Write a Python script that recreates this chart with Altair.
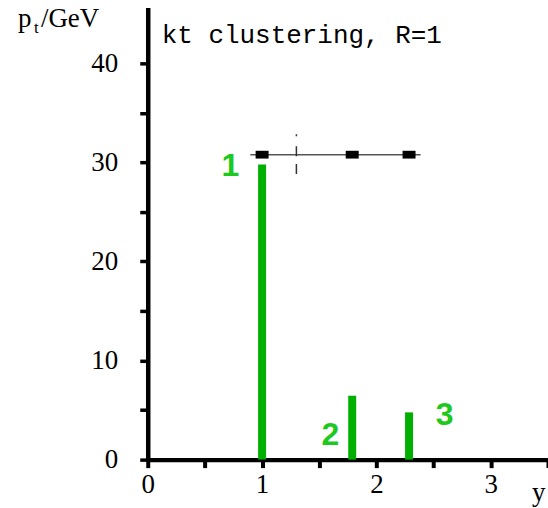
import altair as alt
import pandas as pd

# ---- data ----
jet_rapidity = [1.0, 1.788, 2.285]
jet_pt = [29.8, 6.45, 4.77]
jet_names = ["1", "2", "3"]
name_rapidity = [0.722, 1.596, 2.596]
name_pt = [28.61, 1.51, 3.53]
cluster_rapidity = [1.0, 1.788, 2.285]
cluster_pt = [30.78, 30.78, 30.78]
line_rapidity = [0.897]
line_rapidity_end = [2.386]
line_pt = [30.78]
cut_rapidity = [1.3]
cut_pt_low = [28.82]
cut_pt_high = [32.85]
x_ticks = [0, 0.5, 1, 1.5, 2, 2.5, 3, 3.5]
y_ticks = [0, 5, 10, 15, 20, 25, 30, 35, 40]

jets = pd.DataFrame({"rap": jet_rapidity, "pt": jet_pt})
names = pd.DataFrame({"rap": name_rapidity, "pt": name_pt, "name": jet_names})
cluster = pd.DataFrame({"rap": cluster_rapidity, "pt": cluster_pt})
hline = pd.DataFrame({"rap": line_rapidity, "rap2": line_rapidity_end, "pt": line_pt})
cut = pd.DataFrame({"rap": cut_rapidity, "lo": cut_pt_low, "hi": cut_pt_high})

xscale = alt.Scale(domain=[0, 3.5], nice=False, zero=False)
yscale = alt.Scale(domain=[0, 45.64], nice=False, zero=False)

xaxis = alt.Axis(
    values=x_ticks, labelExpr="datum.value % 1 == 0 ? toString(datum.value) : ''",
    title="", grid=False, domainColor="black", domainWidth=4.5, tickColor="black",
    tickWidth=4, tickSize=8, labelFont="Liberation Serif", labelFontSize=27,
    labelColor="black", labelPadding=4, labelFlush=False, labelOverlap=False,
)
yaxis = alt.Axis(
    values=y_ticks, labelExpr="datum.value % 10 == 0 ? toString(datum.value) : ''",
    title="", grid=False, domainColor="black", domainWidth=4.5, tickColor="black",
    tickWidth=3.5, tickSize=8, labelFont="Liberation Serif", labelFontSize=27,
    labelColor="black", labelPadding=22, labelFlush=False, labelOverlap=False,
)

bars = alt.Chart(jets).mark_rule(color="#00B000", strokeWidth=8, strokeCap="butt").encode(
    x=alt.X("rap:Q", scale=xscale, axis=xaxis),
    y=alt.Y("pt:Q", scale=yscale, axis=yaxis),
    y2=alt.datum(0),
)

line = alt.Chart(hline).mark_rule(color="#555555", strokeWidth=1.5).encode(
    x="rap:Q", x2="rap2:Q", y="pt:Q"
)

cutline = alt.Chart(cut).mark_rule(
    color="#333333", strokeWidth=1.5, strokeDash=[2, 10, 10, 8, 10]
).encode(x="rap:Q", y="hi:Q", y2="lo:Q")

squares = alt.Chart(cluster).mark_point(
    shape="M-1,-0.6H1V0.6H-1Z", size=169, filled=True, color="black", opacity=1
).encode(x="rap:Q", y="pt:Q")

labels = alt.Chart(names).mark_text(
    font="Liberation Sans", fontWeight="bold", fontSize=32, color="#1DC91D",
    align="center", baseline="alphabetic",
).encode(x="rap:Q", y="pt:Q", text="name:N")


def ann(txt, px, py, font, size, align="left"):
    return alt.Chart(pd.DataFrame({"t": [txt]})).mark_text(
        font=font, fontSize=size, color="black", align=align, baseline="alphabetic"
    ).encode(x=alt.value(px), y=alt.value(py), text="t:N")


title = ann("kt clustering, R=1", 14, 36, "Liberation Mono", 26)
p_lab = ann("p", 18 - 148, 27 - 7, "Liberation Serif", 27)
t_lab = ann("t", 34 - 148, 33 - 7, "Liberation Serif", 17)
gev_lab = ann("/GeV", 41 - 148, 27 - 7, "Liberation Serif", 27)
y_lab = ann("y", 533 - 148, 501 - 7, "Liberation Serif", 27)

chart = alt.layer(
    bars, line, cutline, squares, labels, title, p_lab, t_lab, gev_lab, y_lab
).properties(
    width=401, height=453,
    autosize=alt.AutoSizeParams(type="none"),
    padding={"left": 148, "top": 7, "right": 0, "bottom": 48},
).configure_view(strokeOpacity=0)

chart.save("out.html", embed_options={"renderer": "svg", "actions": False})
